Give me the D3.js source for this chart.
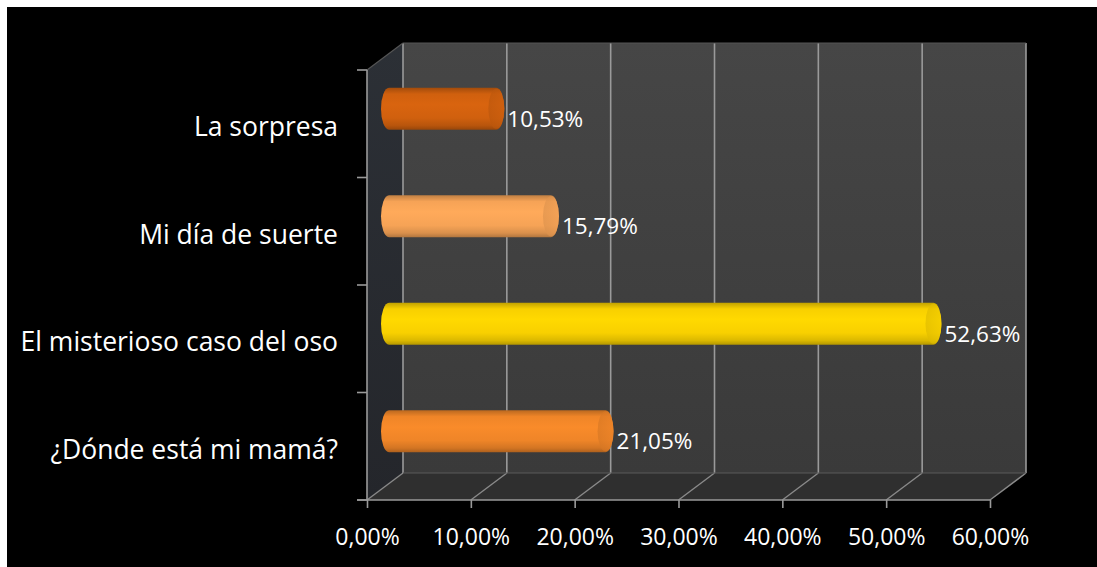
<!DOCTYPE html>
<html><head><meta charset="utf-8">
<script src="https://cdn.jsdelivr.net/npm/d3@7"></script>
<style>
html,body{margin:0;padding:0;background:#fff;}
svg{display:block;}
</style></head>
<body>
<svg id="chart" width="1097" height="567"></svg>
<script>
const categories = ["La sorpresa", "Mi día de suerte", "El misterioso caso del oso", "¿Dónde está mi mamá?"];
const values = [0.1053, 0.1579, 0.5263, 0.2105];
const barColors = ["#d0600e", "#f6a356", "#f8d000", "#ef8528"];
const tickValues = [0, 0.1, 0.2, 0.3, 0.4, 0.5, 0.6];

(function () {
const W = 1097, H = 567;
const svg = d3.select("#chart");
const locale = d3.formatLocale({decimal: ",", thousands: ".", grouping: [3], currency: ["", "€"]});
const fmt = locale.format(".2%");
const FONT = "'Open Sans', sans-serif";

svg.append("rect").attr("width", W).attr("height", H).attr("fill", "#fff");
svg.append("rect").attr("x", 7).attr("y", 7).attr("width", W - 7).attr("height", H - 7).attr("fill", "#000");

const x = d3.scaleLinear().domain([0, 0.6]).range([367, 990]);
const y = d3.scaleBand().domain(categories).range([70, 500]);
const DX = 36, DY = -27;
const yTop = y.range()[0], yBot = y.range()[1];
const x0 = x(0), x1 = x(0.6);

const defs = svg.append("defs");
const wallG = defs.append("linearGradient").attr("id", "wall").attr("x1", 0).attr("y1", 0).attr("x2", 0).attr("y2", 1);
wallG.append("stop").attr("offset", "0%").attr("stop-color", "#464646");
wallG.append("stop").attr("offset", "100%").attr("stop-color", "#3a3a3a");
const sideG = defs.append("linearGradient").attr("id", "side").attr("x1", 0).attr("y1", 0).attr("x2", 0).attr("y2", 1);
sideG.append("stop").attr("offset", "0%").attr("stop-color", "#2c3036");
sideG.append("stop").attr("offset", "100%").attr("stop-color", "#24262b");

const g = svg.append("g");
g.append("rect").attr("x", x0 + DX).attr("y", yTop + DY).attr("width", x1 - x0).attr("height", yBot - yTop)
  .attr("fill", "url(#wall)");
g.append("path").attr("d", `M${x0},${yTop}L${x0 + DX},${yTop + DY}L${x0 + DX},${yBot + DY}L${x0},${yBot}Z`)
  .attr("fill", "url(#side)");
g.append("path").attr("d", `M${x0},${yBot}L${x0 + DX},${yBot + DY}L${x1 + DX},${yBot + DY}L${x1},${yBot}Z`)
  .attr("fill", "#2f2f2f");

g.selectAll(".grid").data(tickValues).join("line")
  .attr("x1", d => x(d) + DX).attr("x2", d => x(d) + DX)
  .attr("y1", yTop + DY).attr("y2", yBot + DY)
  .attr("stroke", "#9a9a9a").attr("stroke-width", 1.6);
g.selectAll(".diag").data(tickValues).join("line")
  .attr("x1", d => x(d)).attr("y1", yBot)
  .attr("x2", d => x(d) + DX).attr("y2", yBot + DY)
  .attr("stroke", "#8a8a8a").attr("stroke-width", 1.4);
g.append("line").attr("x1", x0).attr("y1", yTop).attr("x2", x0 + DX).attr("y2", yTop + DY)
  .attr("stroke", "#555").attr("stroke-width", 1.2);
g.append("line").attr("x1", x0 + DX).attr("y1", yTop + DY).attr("x2", x1 + DX).attr("y2", yTop + DY)
  .attr("stroke", "#555").attr("stroke-width", 1);
g.append("line").attr("x1", x0 + DX).attr("y1", yBot + DY).attr("x2", x1 + DX).attr("y2", yBot + DY)
  .attr("stroke", "#5a5a5a").attr("stroke-width", 1);

const xAxis = d3.axisBottom(x).tickValues(tickValues).tickFormat(fmt).tickSize(8).tickSizeOuter(0).tickPadding(16);
const gx = svg.append("g").attr("transform", `translate(0,${yBot})`).call(xAxis);
gx.select(".domain").attr("stroke", "#9a9a9a").attr("stroke-width", 1.6)
  .attr("d", `M${x0 - 10},0H${x1}`);
gx.selectAll(".tick line").attr("stroke", "#9a9a9a").attr("stroke-width", 1.6);
gx.selectAll(".tick text").attr("fill", "#fff").attr("font-family", FONT).attr("font-size", 23)
  .attr("dy", "0.9em");

const yTicks = categories.map(c => y(c)).concat([yBot]);
const gy = svg.append("g");
gy.append("line").attr("x1", x0).attr("x2", x0).attr("y1", yTop).attr("y2", yBot)
  .attr("stroke", "#9a9a9a").attr("stroke-width", 1.6);
gy.selectAll(".yt").data(yTicks).join("line")
  .attr("x1", x0 - 10).attr("x2", x0).attr("y1", d => d).attr("y2", d => d)
  .attr("stroke", "#9a9a9a").attr("stroke-width", 1.6);
gy.selectAll(".cat").data(categories).join("text")
  .attr("x", 338).attr("y", d => y(d) + y.bandwidth() / 2 + 3)
  .attr("dy", "0.36em").attr("text-anchor", "end")
  .attr("fill", "#fff").attr("font-family", FONT).attr("font-size", 26.5)
  .text(d => d);

const BH = 42, RX = 8;
const midDX = DX * 0.5, midDY = -15;
function shade(c, k) { return d3.color(c).darker(k).formatHex(); }
function light(c, k) { return d3.color(c).brighter(k).formatHex(); }
categories.forEach((c, i) => {
  const col = barColors[i];
  const gid = "cyl" + i, cid = "cap" + i;
  const gr = defs.append("linearGradient").attr("id", gid).attr("x1", 0).attr("y1", 0).attr("x2", 0).attr("y2", 1);
  [[0, shade(col, 0.7)], [0.15, col], [0.4, light(col, 0.12)], [0.72, col], [0.9, shade(col, 0.35)], [1, shade(col, 0.9)]]
    .forEach(([o, s]) => gr.append("stop").attr("offset", o).attr("stop-color", s));
  const cg = defs.append("linearGradient").attr("id", cid).attr("x1", 0).attr("y1", 0).attr("x2", 1).attr("y2", 0);
  cg.append("stop").attr("offset", 0).attr("stop-color", shade(col, 0.35));
  cg.append("stop").attr("offset", 1).attr("stop-color", shade(col, 0.1));

  const cy = y(c) + y.bandwidth() / 2 + midDY;
  const bx0 = x(0) + midDX + 4, bx1 = x(values[i]) + midDX + 2;
  const t = cy - BH / 2, b = cy + BH / 2;
  g.append("path")
    .attr("d", `M${bx0},${t}L${bx1},${t}A${RX},${BH / 2} 0 0 1 ${bx1},${b}L${bx0},${b}A${RX},${BH / 2} 0 0 1 ${bx0},${t}Z`)
    .attr("fill", `url(#${gid})`);
  g.append("ellipse").attr("cx", bx1).attr("cy", cy).attr("rx", RX).attr("ry", BH / 2 - 1)
    .attr("fill", `url(#${cid})`).attr("opacity", 0.6);
  g.append("text").attr("x", bx1 + 11).attr("y", cy + 18)
    .attr("fill", "#fff").attr("font-family", FONT).attr("font-size", 22.5)
    .text(fmt(values[i]));
});
})();
</script>
</body></html>
